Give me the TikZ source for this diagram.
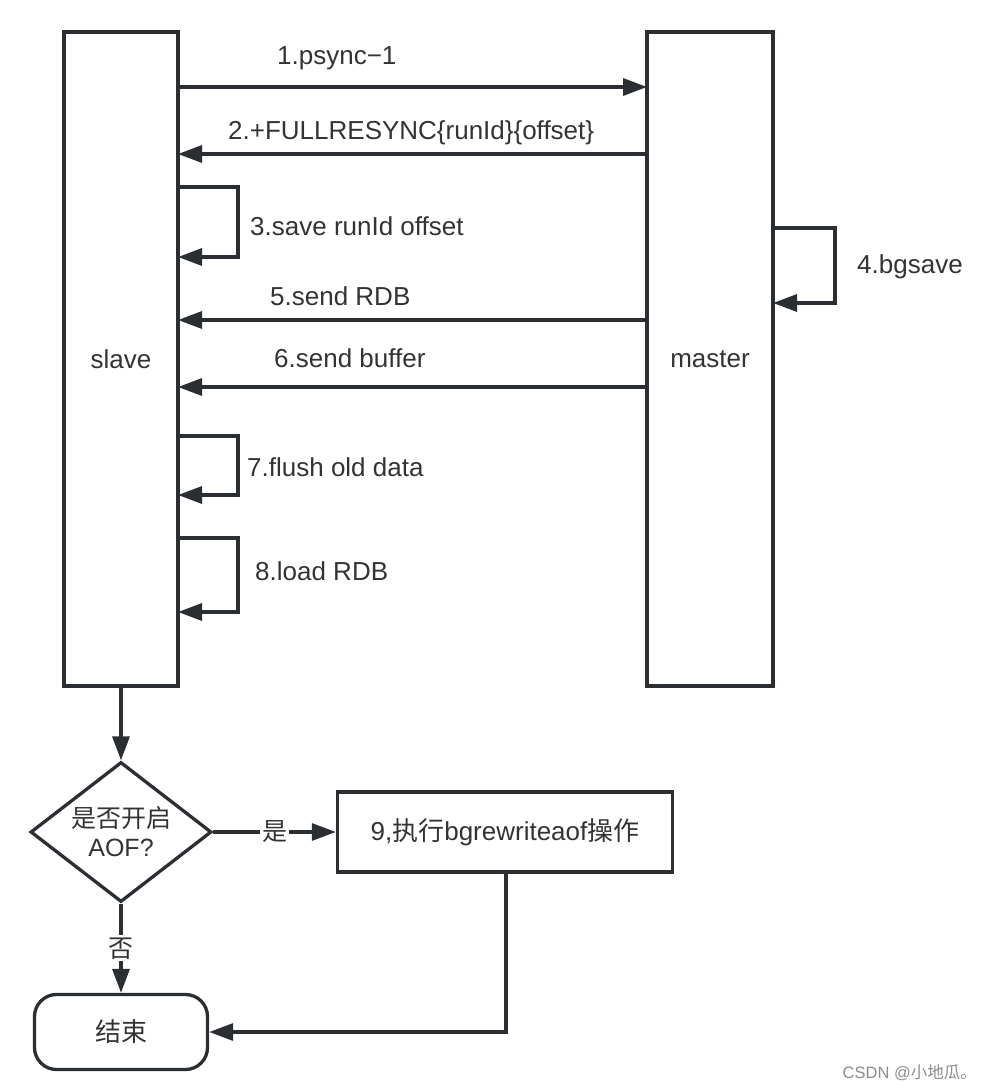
\documentclass[tikz,border=0pt]{standalone}
\usepackage{fontspec}
\setmainfont{Liberation Sans}
\newfontfamily\cjk{Noto Sans CJK SC}
\usetikzlibrary{arrows.meta,shapes.geometric,positioning}
\definecolor{ink}{HTML}{2B2F33}
\definecolor{txt}{HTML}{333333}
\begin{document}
\begin{tikzpicture}[x=1pt,y=-1pt,
  every node/.style={text=txt,font=\fontsize{26}{30}\selectfont},
  line/.style={draw=ink,line width=3.3pt},
  arr/.style={line,-{Triangle[length=24pt,width=17pt]}},
  lane/.style={draw=ink,line width=3.3pt,minimum width=#1,minimum height=654pt,inner sep=0pt},
  lbl/.style={anchor=west,inner sep=0pt},
  procbox/.style={draw=ink,line width=3.3pt,minimum width=335pt,minimum height=80pt},
  endbox/.style={draw=ink,line width=3.3pt,rounded corners=22pt,minimum width=173pt,minimum height=75pt},
  decision/.style={draw=ink,line width=3.3pt,diamond,minimum width=181pt,minimum height=140pt,inner sep=0pt,aspect=1.29}]
\useasboundingbox (0,0) rectangle (988,1092);
% lanes
\node[lane=114pt] (slave) at (121,359) {slave};
\node[lane=126pt] (master) at (710,359) {master};
% coordinates on lane edges
\coordinate (s1) at (178,87);   \coordinate (m1) at (647,87);
\coordinate (s2) at (178,154);  \coordinate (m2) at (647,154);
\coordinate (s5) at (178,320);  \coordinate (m5) at (647,320);
\coordinate (s6) at (178,387);  \coordinate (m6) at (647,387);
\coordinate (s3a) at (178,187); \coordinate (s3b) at (178,257);
\coordinate (s7a) at (178,436); \coordinate (s7b) at (178,495);
\coordinate (s8a) at (178,538); \coordinate (s8b) at (178,612);
\coordinate (m4a) at (773,228); \coordinate (m4b) at (773,303);
% messages
\draw[arr] (s1) -- (m1);
\draw[arr] (m2) -- (s2);
\draw[arr] (m5) -- (s5);
\draw[arr] (m6) -- (s6);
\node[lbl] (l1) at (277,58) {1.psync−1};
\node[lbl] (l2) at (228,133) {2.+FULLRESYNC\{runId\}\{offset\}};
\node[lbl] (l5) at (270,296) {5.send RDB};
\node[lbl] (l6) at (274,358) {6.send buffer};
% self loops
\draw[arr] (s3a) -- (238,187) -- (238,257) -- (s3b);
\node[lbl] (l3) at (250,226) {3.save runId offset};
\draw[arr] (m4a) -- (835,228) -- (835,303) -- (m4b);
\node[lbl] (l4) at (857,267) {4.bgsave};
\draw[arr] (s7a) -- (238,436) -- (238,495) -- (s7b);
\node[lbl] (l7) at (247,467) {7.flush old data};
\draw[arr] (s8a) -- (238,538) -- (238,612) -- (s8b);
\node[lbl] (l8) at (255,571) {8.load RDB};
% flowchart
\node[decision,align=center,font=\fontsize{25}{33}\selectfont] (dec) at (121,832) {{\cjk 是否开启}\\[-4pt]AOF?};
\node[procbox] (p9) at (505,832) {9,{\cjk 执行}bgrewriteaof{\cjk 操作}};
\node[endbox] (end) at (121,1032) {\cjk 结束};
\draw[arr] (slave.south) -- (dec.north);
\draw[arr] (dec.east) -- node[fill=white,inner sep=2pt,font=\cjk\fontsize{25}{30}\selectfont] (yes) {是} (p9.west);
\draw[arr] (dec.south) -- node[fill=white,inner sep=2pt,pos=0.5,font=\cjk\fontsize{25}{30}\selectfont] (no) {否} (end.north);
\draw[arr] (p9.south -| 506,0) |- (end.east);
% watermark
\node[anchor=east,inner sep=0pt,text=black!45,font=\fontsize{16.5}{20}\selectfont] (wm) at (977,1073) {CSDN @{\cjk 小地瓜。}};
\end{tikzpicture}
\end{document}
